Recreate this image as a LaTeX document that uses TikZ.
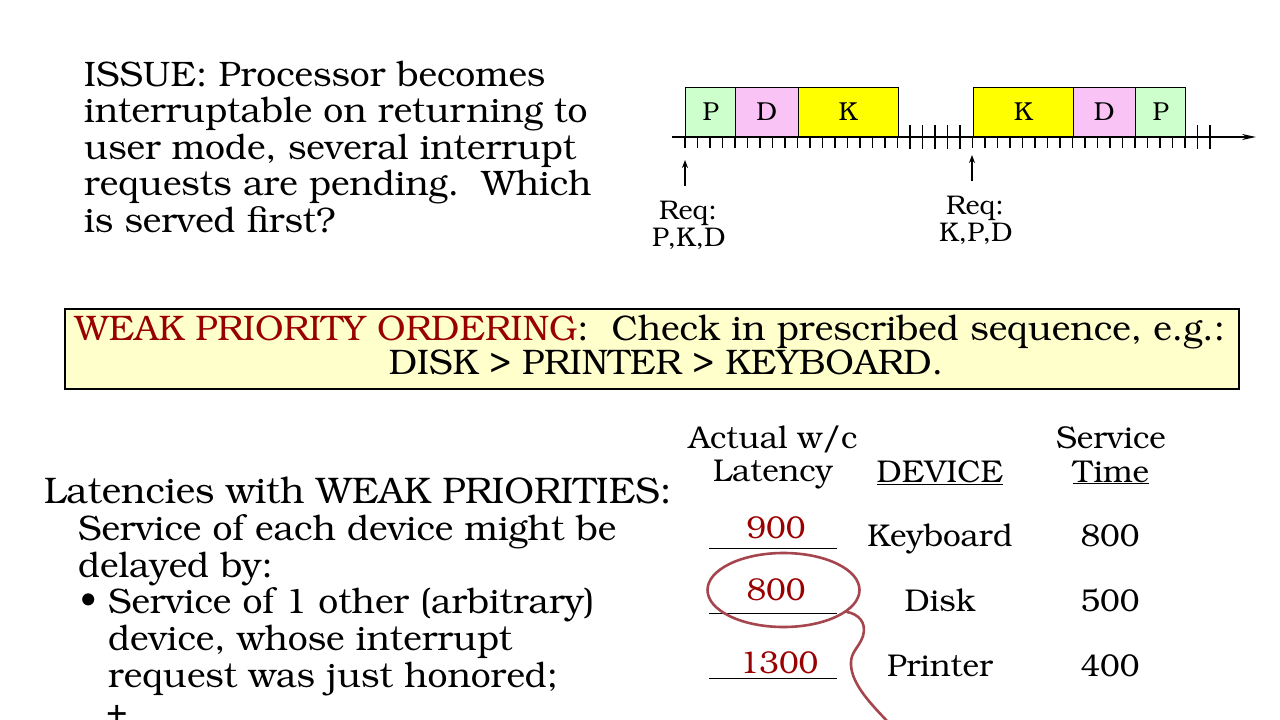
\documentclass[tikz,border=0pt]{standalone}
\usepackage[T1]{fontenc}
\usepackage{bookman}
\usepackage{tikz}
\usetikzlibrary{arrows.meta,positioning}
\definecolor{slotgreen}{HTML}{CCFFCC}
\definecolor{slotpink}{HTML}{F9C3F5}
\definecolor{slotyellow}{HTML}{FFFF00}
\definecolor{notegold}{HTML}{FFFFCC}
\definecolor{darkred}{HTML}{990000}
\definecolor{penred}{HTML}{A5464F}
\newcommand{\fsz}[1]{\fontsize{#1}{#1}\selectfont}
\tikzset{
  tx/.style={anchor=base west,inner sep=0pt,font=\fsz{35.4}},
  cx/.style={anchor=base,inner sep=0pt,font=\fsz{31.5}},
  rd/.style={cx,text=darkred},
  tm/.style={anchor=base,inner sep=0pt,font=\fsz{27}},
  sl/.style={draw,line width=1.2pt,inner sep=0pt,anchor=south west,minimum height=49,font=\fsz{26}},
  nw/.style={anchor=base,inner sep=0pt,font=\fsz{35.5}},
  tk/.style={line width=1.3pt},
  ax/.style={line width=1.6pt,-{Stealth[length=14pt,width=6pt]}},
  up/.style={line width=1.4pt,-{Stealth[length=8pt,width=6pt]}},
  pen/.style={draw=penred,line width=2.6pt,line cap=round},
}

\begin{document}
\begin{tikzpicture}[x=1pt,y=-1pt]
  \useasboundingbox[fill=white] (0,0) rectangle (1280,720);

  % issue text
  \node[tx] (i1) at (84,86)    {ISSUE: Processor becomes};
  \node[tx] (i2) at (84,122.5) {interruptable on returning to};
  \node[tx] (i3) at (84,159)   {user mode, several interrupt};
  \node[tx] (i4) at (84,195.5) {requests are pending.\ \ Which};
  \node[tx] (i5) at (84,232)   {is served first?};

  % timeline
  \foreach \a/\b/\c/\t [count=\i] in {0/4/slotgreen/P,4/9/slotpink/D,9/17/slotyellow/K,
      23/31/slotyellow/K,31/36/slotpink/D,36/40/slotgreen/P}
    \node[sl,fill=\c,minimum width={(\b-\a)*12.5}] (s\i) at ({685+\a*12.5},137) {\t};
  \coordinate (a0) at (672,137);
  \coordinate (a1) at (1256,137);
  \draw[ax] (a0) -- (a1);
  \foreach \k in {0,...,17} \draw[tk] ({685+\k*12.5},137) -- ++(0,11);
  \foreach \k in {23,...,40} \draw[tk] ({685+\k*12.5},137) -- ++(0,11);
  \foreach \k in {18,...,22,41,42} \draw[tk] ({685+\k*12.5},125) -- ++(0,24);

  \node[tm] (q1) at (688,219) {Req:};
  \node[tm] (k1) at (689,246) {P,K,D};
  \node[tm] (q2) at (975,214) {Req:};
  \node[tm] (k2) at (976,241) {K,P,D};
  \coordinate (u1) at (685,160);
  \coordinate (u2) at (972,155);
  \draw[up] (685,186) -- (u1);
  \draw[up] (972,181) -- (u2);

  % weak priority box
  \node[draw,line width=1.6pt,fill=notegold,anchor=north west,minimum width=1174,minimum height=80] (weak) at (64,308) {};
  \node[nw] (w1) at (650,340) {\textcolor{darkred}{WEAK PRIORITY ORDERING}:\ \ Check in prescribed sequence, e.g.:};
  \node[nw] (w2) at (666,374) {DISK > PRINTER > KEYBOARD.};

  % latencies text
  \node[tx,font=\fsz{37}] (l1) at (44,503) {Latencies with WEAK PRIORITIES:};
  \node[tx] (l2) at (78,540) {Service of each device might be};
  \node[tx] (l3) at (78,577) {delayed by:};
  \node[tx] (bl) at (80,613) {\textbullet};
  \node[tx] (l4) at (108,613) {Service of 1 other (arbitrary)};
  \node[tx] (l5) at (108,650) {device, whose interrupt};
  \node[tx] (l6) at (108,687) {request was just honored;};
  \node[tx] (l7) at (106,726) {+};

  % table
  \node[cx] (h1) at (773,448)  {Actual w/c};
  \node[cx] (h2) at (773,481)  {Latency};
  \node[cx] (h3) at (940,482)  {\underline{DEVICE}};
  \node[cx] (h4) at (1111,448) {Service};
  \node[cx] (h5) at (1111,482) {\underline{Time}};

  \node[rd] (n1) at (776,538) {900};
  \node[rd] (n2) at (776,600) {800};
  \node[rd] (n3) at (779,673) {1300};
  \foreach \y in {548,613,678} \draw[line width=1pt] (709,\y) -- (837,\y);

  \node[cx] (d1) at (940,546) {Keyboard};
  \node[cx] (d2) at (940,611) {Disk};
  \node[cx] (d3) at (940,676) {Printer};
  \node[cx] (t1) at (1110,546) {800};
  \node[cx] (t2) at (1110,611) {500};
  \node[cx] (t3) at (1110,676) {400};

  % pen mark
  \draw[pen] (783.5,590) ellipse [x radius=76,y radius=37];
  \draw[pen] (847,612) .. controls (858,614) and (867,622) .. (863,636)
    .. controls (859,648) and (850,652) .. (851,665)
    .. controls (852,685) and (872,705) .. (888,722);
\end{tikzpicture}
\end{document}
